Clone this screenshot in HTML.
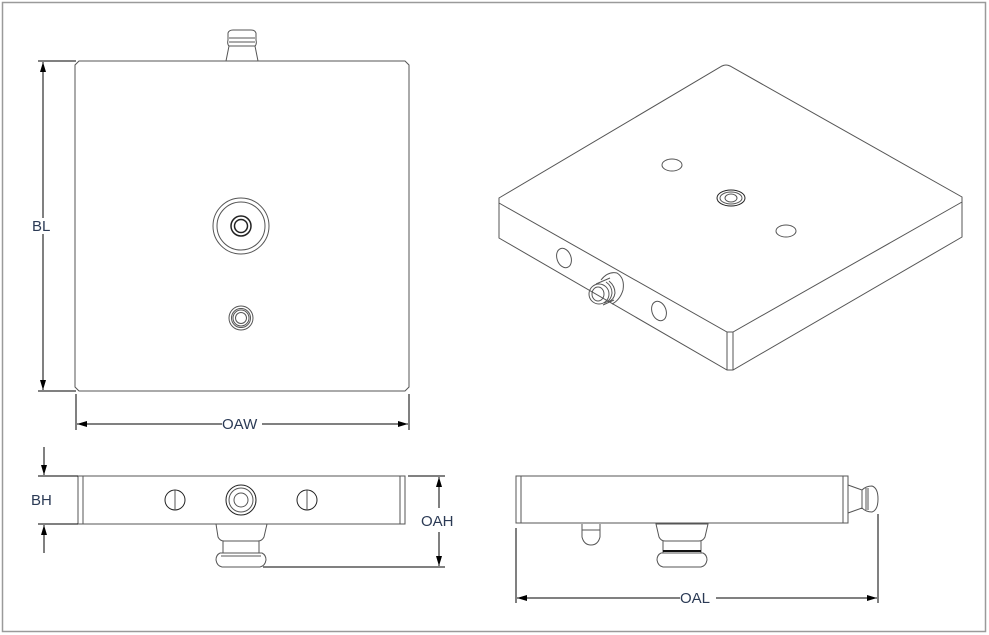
<!DOCTYPE html>
<html><head><style>
html,body{margin:0;padding:0;background:#fff;}
svg{display:block;}
text{font-family:"Liberation Sans",sans-serif;font-size:15px;fill:#2b3a55;}
</style></head><body>
<svg width="989" height="635" viewBox="0 0 989 635" xmlns="http://www.w3.org/2000/svg">
<defs>
<marker id="a" viewBox="0 0 10 6" refX="10" refY="3" markerWidth="10" markerHeight="6" orient="auto-start-reverse" markerUnits="userSpaceOnUse"><path d="M0,0 L10,3 L0,6 z" fill="#000"/></marker>
</defs>
<rect x="2.5" y="2.5" width="983" height="629" fill="#fff" stroke="#9a9a9a" stroke-width="1.5"/>
<g fill="none" stroke="#555" stroke-width="1">
<path d="M79,61 H405 L409,65 V387 L405,391 H79 L75,387 V65 Z"/>
<path d="M226,61 L229,46 H255 L258,61 M229,46 Q227,44 228,40 V33 Q229,30 233,30 H251 Q255,30 256,33 V40 Q257,44 255,46 M229,38 H255 M229,42 H255"/>
<circle cx="241" cy="226" r="28"/><circle cx="241" cy="226" r="24"/>
<circle cx="241" cy="226" r="10" stroke="#222" stroke-width="1.5"/><circle cx="241" cy="226" r="6.5" stroke="#222" stroke-width="1.5"/>
<circle cx="241" cy="318" r="12"/><circle cx="241" cy="318" r="9.5"/><circle cx="241" cy="318" r="8"/><circle cx="241" cy="318" r="5.5"/>
<rect x="78" y="476" width="327" height="48"/>
<path d="M83,476 V524 M400,476 V524"/>
<circle cx="175" cy="500" r="10" stroke="#222"/><path d="M175,490 V510"/>
<circle cx="307" cy="500" r="10" stroke="#222"/><path d="M307,490 V510"/>
<circle cx="241" cy="500" r="15" stroke="#222"/><circle cx="241" cy="500" r="12"/><circle cx="241" cy="500" r="7"/>
<path d="M216,524 H267 L264,537 Q262,541 258,541 H224 Q220,541 218,537 Z M223,541 V553 M259,541 V553 M220,553 H262 Q266,555 266,560 Q265,566 260,567 H222 Q217,566 216,560 Q216,555 220,553 M221,556 H261"/>
<rect x="516" y="476" width="332" height="47"/>
<path d="M521,476 V523 M843,476 V523"/>
<path d="M848,485 L862,490 V508 L848,513 M862,490 Q866,486 872,486 Q878,488 878,499 Q878,510 872,512 Q866,512 862,508 M866,488 V510 M868,488 V510"/>
<path d="M582,524 V537 Q584,545 591,545 Q598,545 600,537 V524 M582,530 H600"/>
<path d="M656,524 H708 L705,537 Q703,541 699,541 H665 Q661,541 659,537 Z M663,541 V553 M701,541 V553 M661,553 H703 Q707,555 707,560 Q706,566 701,567 H663 Q658,566 657,560 Q657,555 661,553"/>
<path d="M663,551 H701" stroke="#111" stroke-width="2"/>
<path d="M499,198 L722,66 Q726,64 730,66 L962,197 V237 L733,370 H727 L499,238 Z"/>
<path d="M499,203 L727,332 H733 L962,202 M727,332 V370 M733,332 V370 M499,198 V203 M962,197 V202"/>
<ellipse cx="672" cy="165" rx="10" ry="6"/><ellipse cx="786" cy="231" rx="10" ry="6"/>
<ellipse cx="731" cy="198" rx="14" ry="8" stroke="#222"/><ellipse cx="731" cy="198" rx="11" ry="6"/><ellipse cx="731" cy="198" rx="6" ry="4"/>
<ellipse cx="564" cy="258" rx="7" ry="10" transform="rotate(-20 564 258)"/>
<ellipse cx="659" cy="311" rx="7" ry="10" transform="rotate(-20 659 311)"/>
<path d="M601,280 Q608,271 617,273 Q625,278 623,290 Q620,300 612,304"/>
<path d="M596,284 L610,278 M603,305 L614,300"/>
<path d="M606,282 Q612,286 612,293 Q611,301 604,303 M609,281 Q615,286 615,293 Q614,300 608,302"/>
<ellipse cx="599" cy="294" rx="10" ry="10"/>
<ellipse cx="598" cy="294" rx="6" ry="7"/>
</g>
<g fill="none" stroke="#000" stroke-width="1">
<path d="M38,61 H76 M38,391 H76"/>
<path d="M43,218 V62" marker-end="url(#a)"/><path d="M43,234 V390" marker-end="url(#a)"/>
<path d="M76,394 V430 M409,394 V430"/>
<path d="M222,424 H77" marker-end="url(#a)"/><path d="M262,424 H408" marker-end="url(#a)"/>
<path d="M38,476 H78 M38,524 H78"/>
<path d="M44,447 V475" marker-end="url(#a)"/><path d="M44,553 V525" marker-end="url(#a)"/>
<path d="M408,476 H445 M263,567 H445"/>
<path d="M439,508 V477" marker-end="url(#a)"/><path d="M439,532 V566" marker-end="url(#a)"/>
<path d="M516,528 V603 M878,514 V603"/>
<path d="M680,598 H517" marker-end="url(#a)"/><path d="M716,598 H877" marker-end="url(#a)"/>
</g>
<text x="32" y="231">BL</text>
<text x="222" y="429">OAW</text>
<text x="31" y="505">BH</text>
<text x="421" y="526">OAH</text>
<text x="680" y="603">OAL</text>
</svg>
</body></html>
